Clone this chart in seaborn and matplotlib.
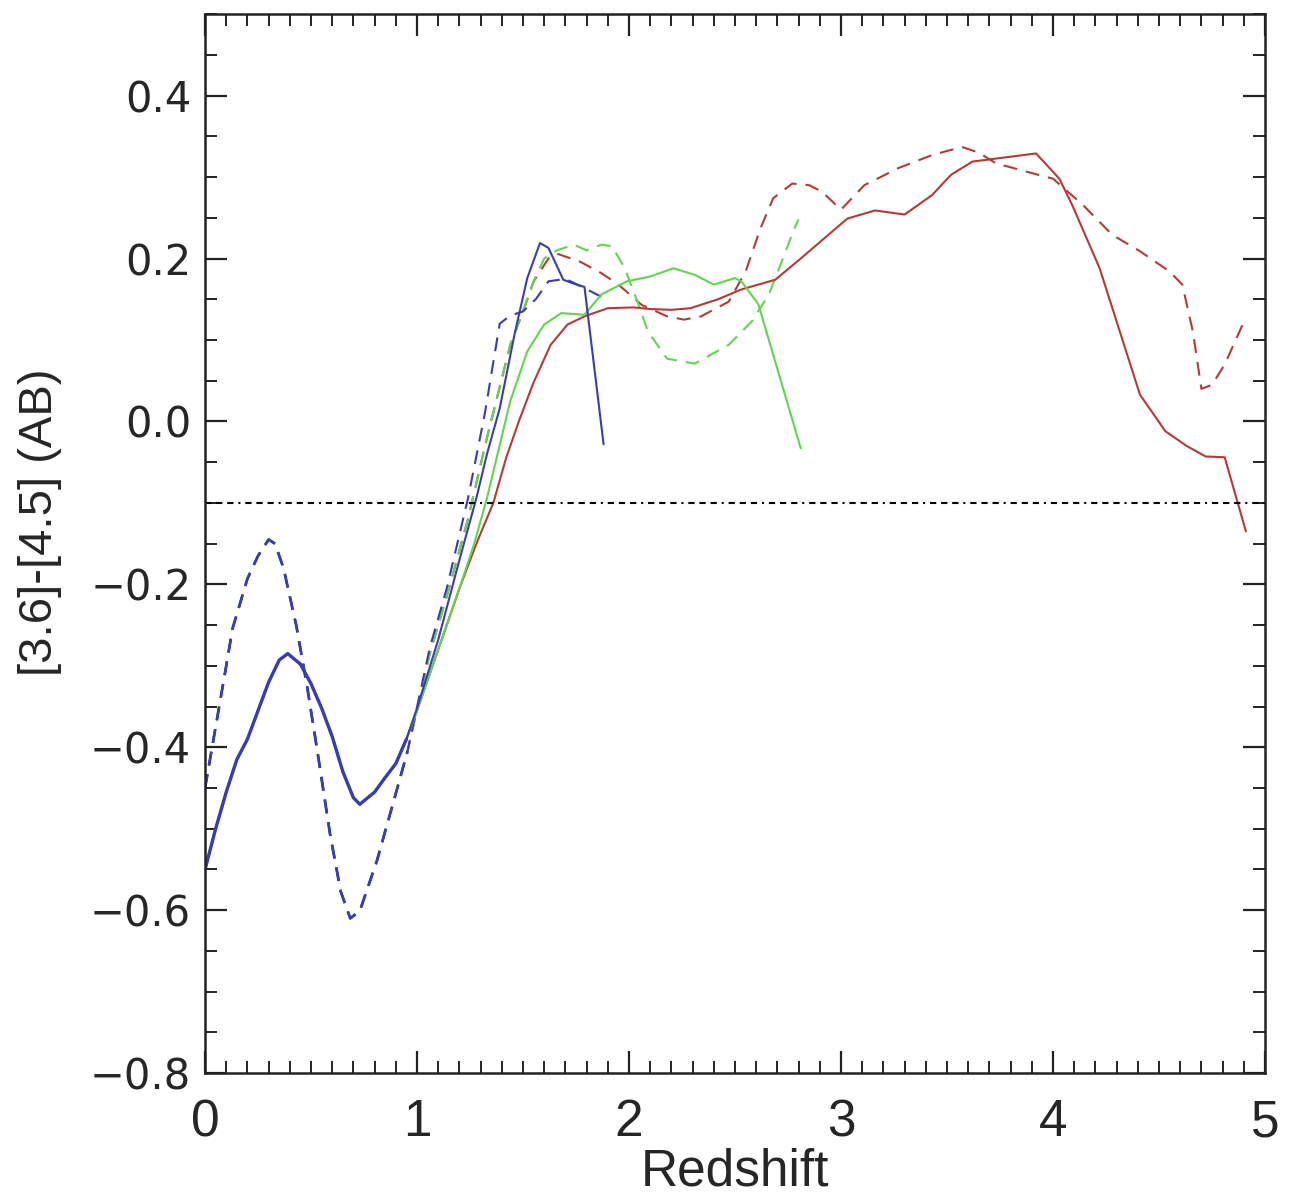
import numpy as np
import pandas as pd
import matplotlib
matplotlib.use("Agg")
import matplotlib.pyplot as plt
from matplotlib.ticker import MultipleLocator
import seaborn as sns

# ---------------- data ----------------
# solid curves share a common low-redshift part
solid_low_z = [0.0, 0.05, 0.10, 0.15, 0.20, 0.25, 0.30, 0.35, 0.39, 0.45, 0.50, 0.55, 0.60, 0.65, 0.70, 0.73, 0.80, 0.85, 0.90, 0.95]
solid_low_v = [-0.55, -0.50, -0.455, -0.415, -0.39, -0.355, -0.32, -0.293, -0.285, -0.298, -0.322, -0.352, -0.387, -0.43, -0.462, -0.47, -0.455, -0.437, -0.42, -0.39]

blue_solid_z = [1.00, 1.10, 1.20, 1.28, 1.33, 1.39, 1.46, 1.52, 1.58, 1.62, 1.69, 1.73, 1.79, 1.88]
blue_solid_v = [-0.352, -0.268, -0.17, -0.094, -0.04, 0.016, 0.107, 0.176, 0.219, 0.213, 0.174, 0.17, 0.165, -0.028]

green_solid_z = [1.00, 1.10, 1.20, 1.27, 1.33, 1.38, 1.44, 1.52, 1.60, 1.68, 1.79, 1.87, 1.99, 2.10, 2.21, 2.31, 2.40, 2.50, 2.53, 2.61, 2.81]
green_solid_v = [-0.355, -0.28, -0.205, -0.15, -0.094, -0.04, 0.025, 0.086, 0.119, 0.133, 0.131, 0.156, 0.172, 0.178, 0.188, 0.18, 0.168, 0.176, 0.172, 0.144, -0.033]

red_solid_z = [1.00, 1.10, 1.20, 1.28, 1.36, 1.42, 1.48, 1.55, 1.63, 1.71, 1.79, 1.90, 2.02, 2.10, 2.20, 2.29, 2.42, 2.53, 2.69, 2.81, 2.94, 3.03, 3.16, 3.30, 3.43, 3.52, 3.62, 3.74, 3.92, 4.03, 4.09, 4.22, 4.41, 4.53, 4.63, 4.72, 4.81, 4.91]
red_solid_v = [-0.355, -0.28, -0.205, -0.15, -0.10, -0.045, 0.0, 0.048, 0.094, 0.119, 0.129, 0.139, 0.14, 0.138, 0.137, 0.139, 0.15, 0.162, 0.174, 0.20, 0.229, 0.249, 0.259, 0.254, 0.278, 0.303, 0.319, 0.323, 0.329, 0.298, 0.266, 0.188, 0.033, -0.012, -0.03, -0.043, -0.044, -0.135]

# dashed curves share a common low-redshift part
dash_low_z = [0.0, 0.05, 0.10, 0.13, 0.20, 0.25, 0.30, 0.33, 0.37, 0.43, 0.48, 0.53, 0.59, 0.64, 0.685, 0.73, 0.81, 0.89, 0.955]
dash_low_v = [-0.45, -0.375, -0.30, -0.254, -0.193, -0.165, -0.145, -0.15, -0.18, -0.25, -0.323, -0.405, -0.507, -0.577, -0.61, -0.601, -0.54, -0.466, -0.405]

blue_dash_z = [1.06, 1.14, 1.24, 1.32, 1.39, 1.44, 1.50, 1.56, 1.62, 1.70, 1.78, 1.87]
blue_dash_v = [-0.278, -0.205, -0.095, 0.01, 0.12, 0.13, 0.135, 0.15, 0.172, 0.175, 0.165, 0.153]

green_dash_z = [1.06, 1.14, 1.24, 1.33, 1.44, 1.50, 1.55, 1.60, 1.66, 1.74, 1.80, 1.87, 1.92, 1.98, 2.04, 2.09, 2.18, 2.31, 2.47, 2.58, 2.66, 2.72, 2.78, 2.80]
green_dash_v = [-0.285, -0.215, -0.12, -0.02, 0.094, 0.135, 0.172, 0.20, 0.21, 0.217, 0.21, 0.217, 0.215, 0.188, 0.147, 0.11, 0.077, 0.071, 0.094, 0.123, 0.156, 0.196, 0.237, 0.248]

red_dash_z = [1.06, 1.14, 1.24, 1.33, 1.44, 1.50, 1.55, 1.62, 1.66, 1.77, 1.87, 1.95, 2.06, 2.18, 2.26, 2.34, 2.47, 2.55, 2.62, 2.68, 2.77, 2.85, 2.91, 3.00, 3.11, 3.27, 3.43, 3.57, 3.65, 3.73, 3.87, 4.00, 4.14, 4.28, 4.41, 4.55, 4.61, 4.66, 4.70, 4.75, 4.81, 4.90]
red_dash_v = [-0.285, -0.215, -0.12, -0.02, 0.094, 0.135, 0.172, 0.20, 0.206, 0.196, 0.182, 0.168, 0.143, 0.129, 0.125, 0.129, 0.147, 0.184, 0.237, 0.274, 0.292, 0.29, 0.282, 0.26, 0.29, 0.311, 0.327, 0.337, 0.33, 0.317, 0.307, 0.298, 0.266, 0.229, 0.209, 0.184, 0.168, 0.11, 0.04, 0.045, 0.07, 0.122]

threshold = -0.1

x_ticks = [0, 1, 2, 3, 4, 5]
y_ticks = [-0.8, -0.6, -0.4, -0.2, 0.0, 0.2, 0.4]
y_tick_labels = ["\u22120.8", "\u22120.6", "\u22120.4", "\u22120.2", "0.0", "0.2", "0.4"]

# ---------------- style ----------------
sns.set_theme(style="ticks")
plt.rcParams["font.family"] = ["Liberation Sans", "DejaVu Sans"]
plt.rcParams["axes.linewidth"] = 1.8
plt.rcParams["lines.scale_dashes"] = False

C_BLUE = "#3a3db0"
C_GREEN = "#62d450"
C_RED = "#b43a38"

fig = plt.figure(figsize=(13.06, 11.99), dpi=100)
ax = fig.add_axes([0.157, 0.105, 0.8116, 0.8832])

LW = 1.5
DASH = (0, (10, 6.5))

def curve(z, v, color, ls, lw=LW, low_z=None, low_v=None):
    zz = (list(low_z) if low_z is not None else []) + list(z)
    vv = (list(low_v) if low_v is not None else []) + list(v)
    df = pd.DataFrame({"z": zz, "v": vv})
    sns.lineplot(data=df, x="z", y="v", ax=ax, color=color, linestyle=ls,
                 linewidth=lw, sort=False, estimator=None)

# dashed curves (red, green, then blue on top)
curve(red_dash_z, red_dash_v, C_RED, DASH, low_z=dash_low_z, low_v=dash_low_v)
curve(green_dash_z, green_dash_v, C_GREEN, DASH, low_z=dash_low_z, low_v=dash_low_v)
curve(blue_dash_z, blue_dash_v, C_BLUE, DASH, low_z=dash_low_z, low_v=dash_low_v)
curve(dash_low_z, dash_low_v, C_BLUE, DASH, lw=2.0)
# solid curves
curve(red_solid_z, red_solid_v, C_RED, "-", low_z=solid_low_z, low_v=solid_low_v)
curve(green_solid_z, green_solid_v, C_GREEN, "-", low_z=solid_low_z, low_v=solid_low_v)
curve(blue_solid_z, blue_solid_v, C_BLUE, "-", low_z=solid_low_z, low_v=solid_low_v)
curve(solid_low_z, solid_low_v, C_BLUE, "-", lw=2.4)

ax.axhline(threshold, color="black", linewidth=1.5,
           linestyle=(0, (4.5, 3.5, 4.5, 3.5, 4.5, 3.5, 1.5, 3.5)))

ax.set_xlim(0, 5)
ax.set_ylim(-0.8, 0.5)
ax.set_xticks(x_ticks)
ax.set_xticklabels([str(t) for t in x_ticks])
ax.set_yticks(y_ticks)
ax.set_yticklabels(y_tick_labels, fontfamily="DejaVu Sans", fontsize=30)
ax.xaxis.set_minor_locator(MultipleLocator(0.1))
ax.yaxis.set_minor_locator(MultipleLocator(0.05))

ax.tick_params(which="both", direction="in", top=True, right=True, color="#222222")
ax.tick_params(which="major", length=16, width=1.6)
ax.tick_params(which="minor", length=8.5, width=1.4)
ax.tick_params(axis="x", which="major", pad=18, labelsize=37)
ax.tick_params(axis="y", which="major", pad=10)
for s in ax.spines.values():
    s.set_color("#222222")
    s.set_visible(True)

ax.set_xlabel("Redshift", fontsize=37, labelpad=0)
ax.set_ylabel("[3.6]-[4.5] (AB)", fontsize=34)
ax.yaxis.set_label_coords(-0.135, 0.52)

fig.savefig("out.png", dpi=100, facecolor="white")
